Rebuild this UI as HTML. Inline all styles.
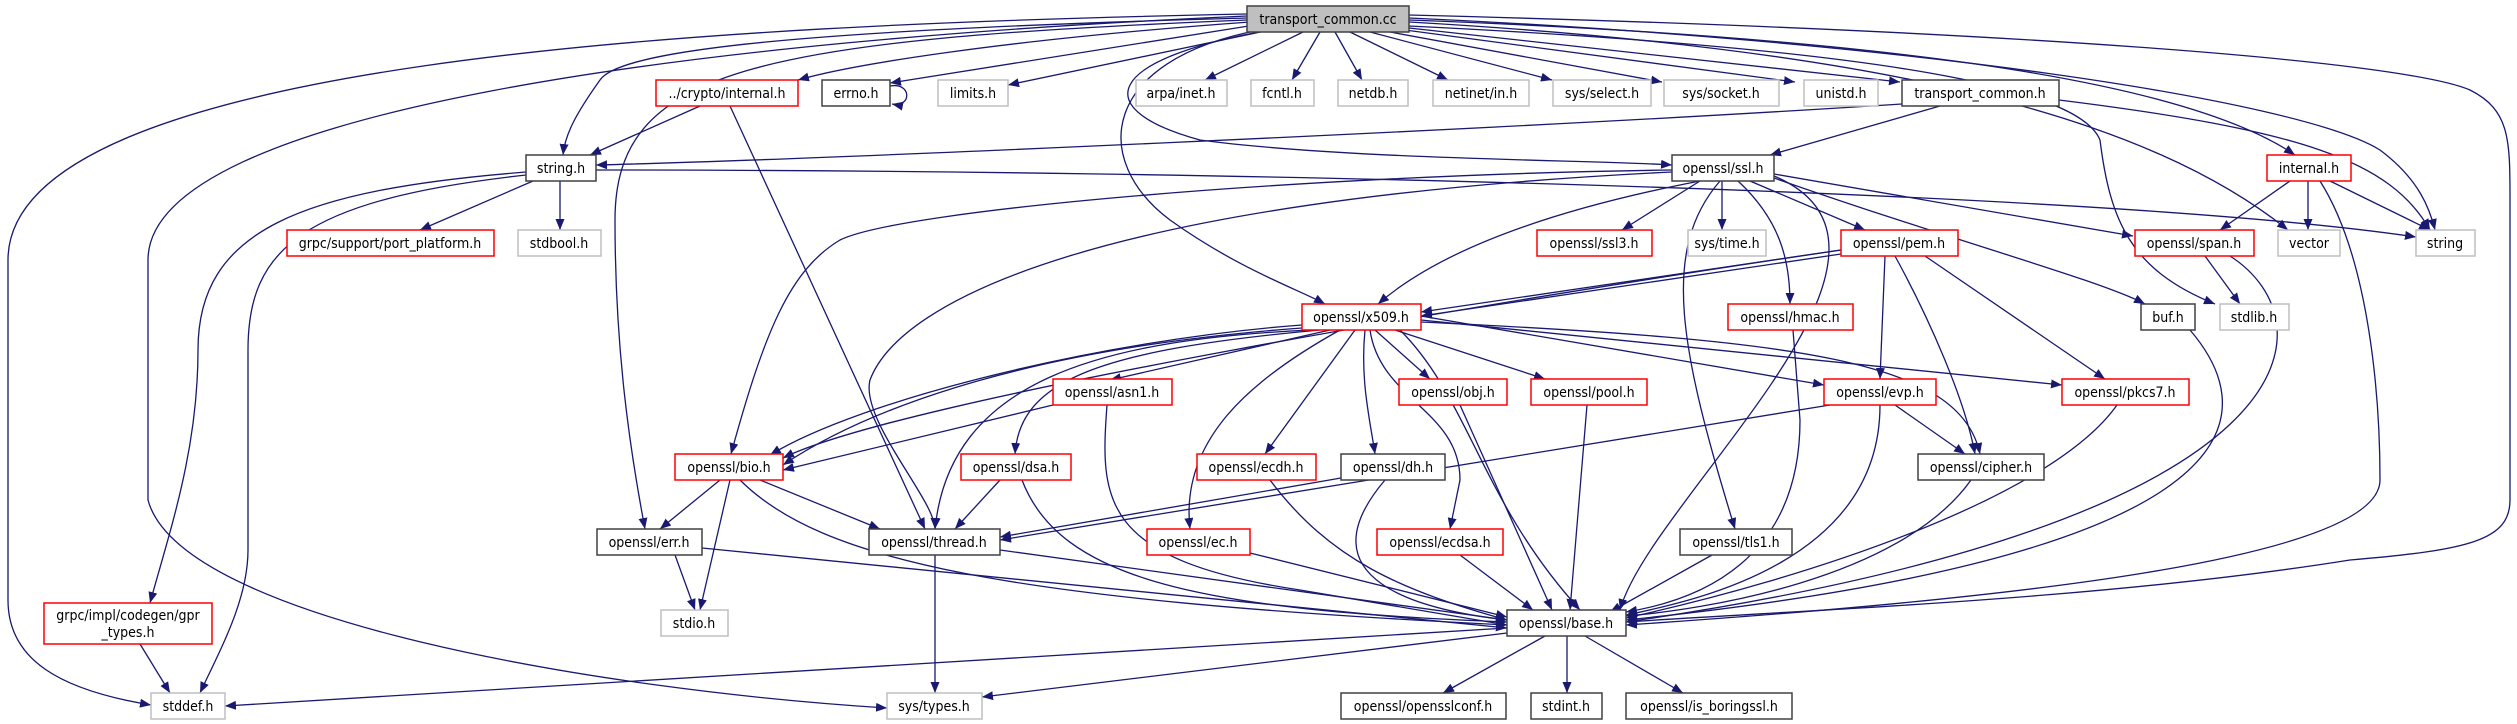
<!DOCTYPE html>
<html><head><meta charset="utf-8"><style>
html,body{margin:0;padding:0;background:#fff;width:2517px;height:724px;overflow:hidden}
svg{display:block}
text{font-family:"DejaVu Sans Condensed","Liberation Sans",sans-serif;font-size:14px;fill:#000;text-anchor:middle}
.b{fill:#fff;stroke:#404040;stroke-width:1.5}
.r{fill:#fff;stroke:#ff0000;stroke-width:1.5}
.g{fill:#fff;stroke:#bfbfbf;stroke-width:1.5}
path.e{fill:none;stroke:#191970;stroke-width:1.3;marker-end:url(#a)}
</style></head><body>
<svg width="2517" height="724" viewBox="0 0 2517 724" xmlns="http://www.w3.org/2000/svg">
<defs><marker id="a" markerUnits="userSpaceOnUse" markerWidth="12" markerHeight="9" refX="11" refY="4.5" orient="auto"><path d="M0,0 L11,4.5 L0,9 z" fill="#191970"/></marker></defs>
<g>
<path class="e" d="M1247,14 C700,25 8,60 8,260 L8,600 C8,660 60,690 151,705"/>
<path class="e" d="M1247,16 C700,40 148,110 148,260 L148,500 C180,620 600,690 887,708"/>
<path class="e" d="M1247,18 C800,30 620,50 600,80 C575,115 565,135 563,155"/>
<path class="e" d="M1250,22 C1000,40 850,65 798,80"/>
<path class="e" d="M1255,25 L890,83"/>
<path class="e" d="M1270,30 L1008,85"/>
<path class="e" d="M1247,20 C750,40 615,70 615,220 C615,350 630,450 645,529"/>
<path class="e" d="M1303,32 L1205,80"/>
<path class="e" d="M1320,32 L1292,80"/>
<path class="e" d="M1335,32 L1362,80"/>
<path class="e" d="M1350,32 L1448,80"/>
<path class="e" d="M1370,32 L1552,80"/>
<path class="e" d="M1390,32 L1662,82"/>
<path class="e" d="M1405,30 L1795,82"/>
<path class="e" d="M1409,28 L1900,82"/>
<path class="e" d="M1260,30 C1100,60 1090,160 1170,220 C1240,270 1300,290 1325,304"/>
<path class="e" d="M1270,30 C1100,60 1090,110 1200,140 C1350,160 1600,160 1672,165"/>
<path class="e" d="M1409,15 C2000,30 2400,60 2470,90 C2510,110 2510,140 2510,200 L2510,500 C2510,540 2470,550 2350,560 C2100,600 1800,610 1626,622"/>
<path class="e" d="M1409,18 C1900,40 2300,100 2380,150 C2420,180 2430,210 2435,230"/>
<path class="e" d="M1409,22 C1900,50 2150,120 2288,230"/>
<path class="e" d="M1409,26 C1900,50 2080,90 2100,140 C2110,220 2130,270 2215,304"/>
<path class="e" d="M1409,20 C1950,40 2200,90 2295,155"/>
<path class="e" d="M890,86 C912,82 912,108 892,104"/>
<path class="e" d="M1902,104 C1500,130 800,160 596,165"/>
<path class="e" d="M1940,106 L1770,155"/>
<path class="e" d="M2059,100 C2300,130 2390,160 2430,230"/>
<path class="e" d="M596,170 C1200,170 2100,190 2416,237"/>
<path class="e" d="M700,106 L590,155"/>
<path class="e" d="M730,106 L925,529"/>
<path class="e" d="M533,181 L420,230"/>
<path class="e" d="M560,181 L560,230"/>
<path class="e" d="M526,172 C300,190 198,230 198,350 C198,450 170,530 150,603"/>
<path class="e" d="M526,175 C300,200 248,250 248,350 L248,550 C248,600 220,650 200,693"/>
<path class="e" d="M1700,181 L1622,230"/>
<path class="e" d="M1722,181 L1722,230"/>
<path class="e" d="M1750,181 L1865,230"/>
<path class="e" d="M1738,181 C1780,220 1790,260 1790,304"/>
<path class="e" d="M1774,174 L2133,236"/>
<path class="e" d="M1774,178 C1950,240 2100,280 2145,304"/>
<path class="e" d="M1700,181 C1550,210 1440,250 1378,304"/>
<path class="e" d="M1672,170 C1300,175 900,210 840,240 C790,270 765,330 731,454"/>
<path class="e" d="M1672,172 C1100,200 900,300 870,380 C860,420 935,500 935,529"/>
<path class="e" d="M1720,181 C1660,250 1680,350 1735,529"/>
<path class="e" d="M1774,176 C1950,250 1650,500 1620,610"/>
<path class="e" d="M1841,250 L1421,312"/>
<path class="e" d="M1841,254 L1421,316"/>
<path class="e" d="M1841,250 C1500,300 900,400 783,458"/>
<path class="e" d="M1885,256 L1880,379"/>
<path class="e" d="M1895,256 C1930,320 1965,400 1975,454"/>
<path class="e" d="M1925,256 L2105,379"/>
<path class="e" d="M1330,330 L1110,380"/>
<path class="e" d="M1302,325 C1100,340 860,400 770,455"/>
<path class="e" d="M1302,328 C1000,350 850,420 783,465"/>
<path class="e" d="M1310,330 C1100,340 950,380 935,529"/>
<path class="e" d="M1320,330 C1100,350 1020,380 1015,454"/>
<path class="e" d="M1340,330 C1250,380 1180,440 1190,529"/>
<path class="e" d="M1355,330 L1265,454"/>
<path class="e" d="M1365,330 C1360,380 1370,420 1375,454"/>
<path class="e" d="M1370,330 C1380,400 1460,410 1460,480 L1450,529"/>
<path class="e" d="M1375,330 L1430,379"/>
<path class="e" d="M1395,330 L1545,379"/>
<path class="e" d="M1400,330 C1470,400 1480,500 1580,610"/>
<path class="e" d="M1421,316 L1824,385"/>
<path class="e" d="M1421,320 L2062,385"/>
<path class="e" d="M1421,322 C1800,340 1960,360 1980,454"/>
<path class="e" d="M1053,405 L783,470"/>
<path class="e" d="M1107,405 C1100,500 1100,560 1300,590 L1507,625"/>
<path class="e" d="M1460,405 L1552,610"/>
<path class="e" d="M1587,405 L1570,610"/>
<path class="e" d="M1895,405 L1965,454"/>
<path class="e" d="M1880,405 C1880,560 1700,600 1626,615"/>
<path class="e" d="M1830,405 L1000,540"/>
<path class="e" d="M2117,405 C2050,500 1800,580 1626,618"/>
<path class="e" d="M720,480 L660,529"/>
<path class="e" d="M730,480 L700,610"/>
<path class="e" d="M760,480 L880,529"/>
<path class="e" d="M740,480 C820,560 1000,600 1507,625"/>
<path class="e" d="M1000,480 L955,529"/>
<path class="e" d="M1022,480 C1060,580 1200,610 1507,622"/>
<path class="e" d="M1270,480 C1330,560 1400,590 1507,620"/>
<path class="e" d="M1341,478 L1000,537"/>
<path class="e" d="M1385,480 C1300,580 1420,610 1507,620"/>
<path class="e" d="M1971,480 C1900,580 1700,610 1626,616"/>
<path class="e" d="M675,555 L695,610"/>
<path class="e" d="M702,548 L1507,628"/>
<path class="e" d="M935,555 L935,693"/>
<path class="e" d="M1000,550 L1507,620"/>
<path class="e" d="M1250,553 L1507,617"/>
<path class="e" d="M1460,555 L1533,610"/>
<path class="e" d="M1712,555 L1610,612"/>
<path class="e" d="M140,644 L170,693"/>
<path class="e" d="M1507,628 L225,706"/>
<path class="e" d="M1507,633 L982,697"/>
<path class="e" d="M1545,636 L1443,693"/>
<path class="e" d="M1567,636 L1567,693"/>
<path class="e" d="M1585,636 L1683,693"/>
<path class="e" d="M2190,330 C2250,400 2300,550 1626,620"/>
<path class="e" d="M2205,256 L2240,304"/>
<path class="e" d="M2230,256 C2330,320 2330,520 1626,622"/>
<path class="e" d="M1793,330 L1800,420 C1800,560 1700,600 1626,612"/>
<path class="e" d="M2290,181 L2220,230"/>
<path class="e" d="M2308,181 L2308,230"/>
<path class="e" d="M2330,181 L2430,230"/>
<path class="e" d="M2320,181 C2370,260 2380,400 2380,480 C2380,560 2000,600 1626,625"/>
</g>
<g>
<rect x="1247" y="6" width="162" height="26" fill="#bfbfbf" stroke="#404040" stroke-width="1.5"/><text x="1328" y="24">transport_common.cc</text>
<rect class="r" x="656" y="80" width="142" height="26"/><text x="727" y="98">../crypto/internal.h</text>
<rect class="b" x="822" y="80" width="68" height="26"/><text x="856" y="98">errno.h</text>
<rect class="g" x="938" y="80" width="70" height="26"/><text x="973" y="98">limits.h</text>
<rect class="g" x="1136" y="80" width="91" height="26"/><text x="1181" y="98">arpa/inet.h</text>
<rect class="g" x="1251" y="80" width="63" height="26"/><text x="1282" y="98">fcntl.h</text>
<rect class="g" x="1338" y="80" width="70" height="26"/><text x="1373" y="98">netdb.h</text>
<rect class="g" x="1433" y="80" width="96" height="26"/><text x="1481" y="98">netinet/in.h</text>
<rect class="g" x="1553" y="80" width="98" height="26"/><text x="1602" y="98">sys/select.h</text>
<rect class="g" x="1664" y="80" width="115" height="26"/><text x="1721" y="98">sys/socket.h</text>
<rect class="g" x="1804" y="80" width="74" height="26"/><text x="1841" y="98">unistd.h</text>
<rect class="b" x="1902" y="80" width="157" height="26"/><text x="1980" y="98">transport_common.h</text>
<rect class="b" x="526" y="155" width="70" height="26"/><text x="561" y="173">string.h</text>
<rect class="b" x="1672" y="155" width="102" height="26"/><text x="1723" y="173">openssl/ssl.h</text>
<rect class="r" x="2267" y="155" width="84" height="26"/><text x="2309" y="173">internal.h</text>
<rect class="r" x="287" y="230" width="207" height="26"/><text x="390" y="248">grpc/support/port_platform.h</text>
<rect class="g" x="518" y="230" width="83" height="26"/><text x="559" y="248">stdbool.h</text>
<rect class="r" x="1537" y="230" width="115" height="26"/><text x="1594" y="248">openssl/ssl3.h</text>
<rect class="g" x="1688" y="230" width="78" height="26"/><text x="1727" y="248">sys/time.h</text>
<rect class="r" x="1841" y="230" width="117" height="26"/><text x="1899" y="248">openssl/pem.h</text>
<rect class="r" x="2135" y="230" width="119" height="26"/><text x="2194" y="248">openssl/span.h</text>
<rect class="g" x="2278" y="230" width="62" height="26"/><text x="2309" y="248">vector</text>
<rect class="g" x="2416" y="230" width="59" height="26"/><text x="2445" y="248">string</text>
<rect class="r" x="1302" y="304" width="119" height="26"/><text x="1361" y="322">openssl/x509.h</text>
<rect class="r" x="1728" y="304" width="125" height="26"/><text x="1790" y="322">openssl/hmac.h</text>
<rect class="b" x="2141" y="304" width="54" height="26"/><text x="2168" y="322">buf.h</text>
<rect class="g" x="2220" y="304" width="69" height="26"/><text x="2254" y="322">stdlib.h</text>
<rect class="r" x="1053" y="379" width="119" height="26"/><text x="1112" y="397">openssl/asn1.h</text>
<rect class="r" x="1399" y="379" width="108" height="26"/><text x="1453" y="397">openssl/obj.h</text>
<rect class="r" x="1531" y="379" width="116" height="26"/><text x="1589" y="397">openssl/pool.h</text>
<rect class="r" x="1824" y="379" width="112" height="26"/><text x="1880" y="397">openssl/evp.h</text>
<rect class="r" x="2062" y="379" width="127" height="26"/><text x="2125" y="397">openssl/pkcs7.h</text>
<rect class="r" x="675" y="454" width="108" height="26"/><text x="729" y="472">openssl/bio.h</text>
<rect class="r" x="961" y="454" width="110" height="26"/><text x="1016" y="472">openssl/dsa.h</text>
<rect class="r" x="1197" y="454" width="119" height="26"/><text x="1256" y="472">openssl/ecdh.h</text>
<rect class="b" x="1341" y="454" width="104" height="26"/><text x="1393" y="472">openssl/dh.h</text>
<rect class="b" x="1918" y="454" width="126" height="26"/><text x="1981" y="472">openssl/cipher.h</text>
<rect class="b" x="597" y="529" width="105" height="26"/><text x="649" y="547">openssl/err.h</text>
<rect class="b" x="869" y="529" width="131" height="26"/><text x="934" y="547">openssl/thread.h</text>
<rect class="r" x="1147" y="529" width="103" height="26"/><text x="1198" y="547">openssl/ec.h</text>
<rect class="r" x="1377" y="529" width="126" height="26"/><text x="1440" y="547">openssl/ecdsa.h</text>
<rect class="b" x="1680" y="529" width="112" height="26"/><text x="1736" y="547">openssl/tls1.h</text>
<rect class="r" x="44" y="603" width="168" height="41"/><text x="128" y="620">grpc/impl/codegen/gpr</text><text x="128" y="637">_types.h</text>
<rect class="g" x="661" y="610" width="67" height="26"/><text x="694" y="628">stdio.h</text>
<rect class="b" x="1507" y="610" width="119" height="26"/><text x="1566" y="628">openssl/base.h</text>
<rect class="g" x="151" y="693" width="74" height="26"/><text x="188" y="711">stddef.h</text>
<rect class="g" x="887" y="693" width="95" height="26"/><text x="934" y="711">sys/types.h</text>
<rect class="b" x="1341" y="693" width="165" height="26"/><text x="1423" y="711">openssl/opensslconf.h</text>
<rect class="b" x="1531" y="693" width="71" height="26"/><text x="1566" y="711">stdint.h</text>
<rect class="b" x="1626" y="693" width="166" height="26"/><text x="1709" y="711">openssl/is_boringssl.h</text>
</g>
</svg>
</body></html>
